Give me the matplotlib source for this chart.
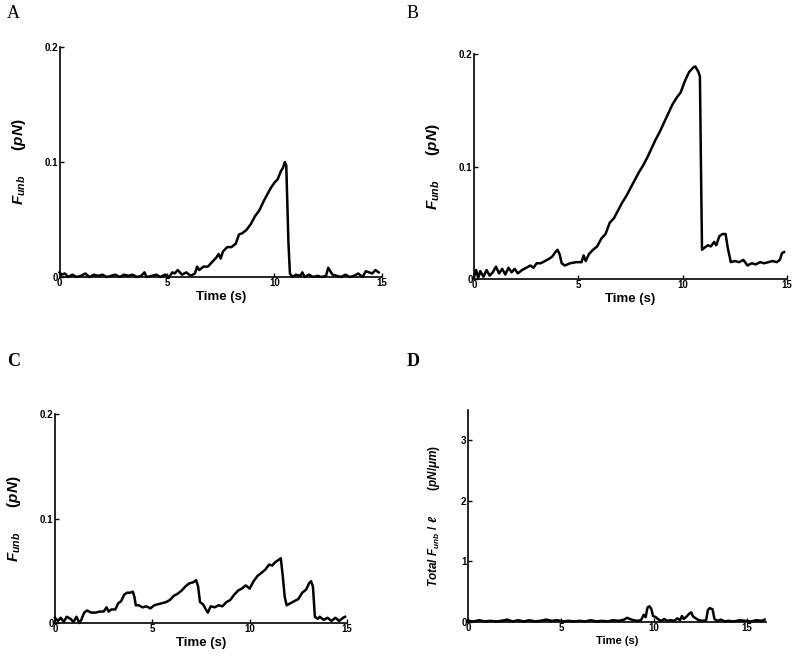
import numpy as np
import matplotlib
matplotlib.use('Agg')
import matplotlib.pyplot as plt

plt.rcParams['font.family'] = ['Liberation Sans', 'DejaVu Sans']
plt.rcParams['mathtext.fontset'] = 'custom'
plt.rcParams['mathtext.it'] = 'Liberation Sans:italic:bold'
plt.rcParams['mathtext.rm'] = 'Liberation Sans:bold'

# panel A - F_unb (pN) vs time (s)
tA = [0.0, 0.1, 0.25, 0.4, 0.6, 0.8, 1.0, 1.2, 1.4, 1.6, 1.8, 2.0, 2.2, 2.4, 2.6, 2.8,
      3.0, 3.2, 3.4, 3.6, 3.8, 3.95, 4.05, 4.3, 4.5, 4.7, 4.9, 5.1, 5.25, 5.35, 5.5, 5.6,
      5.7, 5.9, 6.1, 6.3, 6.4, 6.5, 6.7, 6.9, 7.1, 7.3, 7.4, 7.5, 7.6, 7.8, 8.0, 8.2,
      8.35, 8.5, 8.7, 8.9, 9.1, 9.3, 9.5, 9.7, 9.85, 10.0, 10.15, 10.3, 10.4, 10.48,
      10.55, 10.65, 10.72, 10.85, 11.0, 11.2, 11.3, 11.4, 11.6, 11.8, 12.0, 12.2, 12.4,
      12.5, 12.6, 12.7, 12.9, 13.1, 13.3, 13.5, 13.7, 13.9, 14.1, 14.25, 14.4, 14.55,
      14.7, 14.85]
fA = [0.004, 0.002, 0.003, 0.0, 0.002, 0.0, 0.001, 0.003, 0.0, 0.002, 0.001, 0.002,
      0.0, 0.001, 0.002, 0.0, 0.002, 0.001, 0.002, 0.0, 0.001, 0.004, 0.0, 0.001, 0.002,
      0.0, 0.002, 0.0, 0.004, 0.003, 0.006, 0.004, 0.002, 0.004, 0.001, 0.003, 0.009,
      0.006, 0.009, 0.009, 0.013, 0.017, 0.02, 0.016, 0.022, 0.026, 0.026, 0.029, 0.037,
      0.038, 0.041, 0.046, 0.053, 0.058, 0.066, 0.073, 0.078, 0.082, 0.085, 0.092, 0.095,
      0.1, 0.097, 0.03, 0.003, 0.0, 0.002, 0.001, 0.004, 0.0, 0.002, 0.0, 0.001, 0.0,
      0.001, 0.008, 0.005, 0.002, 0.001, 0.0, 0.002, 0.0, 0.001, 0.003, 0.0, 0.005, 0.004,
      0.003, 0.006, 0.004]

# panel B
tB = [0.0, 0.1, 0.2, 0.3, 0.45, 0.6, 0.75, 0.9, 1.05, 1.2, 1.35, 1.5, 1.65, 1.8, 1.95,
      2.1, 2.3, 2.5, 2.7, 2.85, 3.0, 3.2, 3.4, 3.6, 3.75, 3.9, 4.0, 4.1, 4.2, 4.35, 4.6,
      4.9, 5.15, 5.25, 5.35, 5.5, 5.7, 5.9, 6.1, 6.3, 6.5, 6.7, 6.9, 7.1, 7.3, 7.5, 7.7,
      7.9, 8.1, 8.3, 8.5, 8.7, 8.9, 9.1, 9.3, 9.5, 9.7, 9.9, 10.1, 10.3, 10.5, 10.6,
      10.75, 10.82, 10.87, 10.92, 11.05, 11.2, 11.35, 11.5, 11.6, 11.75, 11.9, 12.05,
      12.15, 12.3, 12.5, 12.7, 12.9, 13.1, 13.3, 13.5, 13.7, 13.9, 14.1, 14.3, 14.5,
      14.65, 14.75, 14.85]
fB = [0.002, 0.008, 0.001, 0.007, 0.002, 0.008, 0.003, 0.006, 0.011, 0.005, 0.009,
      0.004, 0.01, 0.006, 0.009, 0.005, 0.008, 0.01, 0.012, 0.01, 0.014, 0.014, 0.016,
      0.018, 0.02, 0.024, 0.026, 0.022, 0.014, 0.012, 0.014, 0.015, 0.015, 0.021, 0.016,
      0.022, 0.026, 0.029, 0.036, 0.04, 0.05, 0.054, 0.061, 0.068, 0.074, 0.081, 0.088,
      0.095, 0.101, 0.108, 0.116, 0.124, 0.131, 0.139, 0.147, 0.155, 0.161, 0.166, 0.176,
      0.184, 0.188, 0.189, 0.184, 0.18, 0.1, 0.026, 0.028, 0.03, 0.029, 0.033, 0.03, 0.038,
      0.04, 0.04, 0.028, 0.015, 0.016, 0.015, 0.017, 0.012, 0.014, 0.013, 0.015, 0.014,
      0.015, 0.016, 0.015, 0.017, 0.023, 0.024]

# panel C
tC = [0.0, 0.15, 0.3, 0.45, 0.6, 0.8, 0.95, 1.1, 1.25, 1.35, 1.5, 1.65, 1.85, 2.1, 2.3,
      2.5, 2.65, 2.75, 2.9, 3.1, 3.25, 3.4, 3.55, 3.7, 3.85, 4.0, 4.08, 4.15, 4.3, 4.5,
      4.7, 4.9, 5.1, 5.3, 5.5, 5.7, 5.9, 6.1, 6.3, 6.5, 6.7, 6.9, 7.1, 7.25, 7.35, 7.45,
      7.6, 7.75, 7.85, 8.0, 8.2, 8.4, 8.6, 8.8, 9.0, 9.2, 9.4, 9.6, 9.8, 10.0, 10.2, 10.4,
      10.6, 10.8, 11.0, 11.15, 11.3, 11.45, 11.6, 11.7, 11.8, 11.9, 12.1, 12.3, 12.5,
      12.7, 12.9, 13.05, 13.15, 13.25, 13.35, 13.5, 13.6, 13.8, 14.0, 14.2, 14.4, 14.6,
      14.8, 14.9]
fC = [0.005, 0.002, 0.005, 0.001, 0.006, 0.004, 0.001, 0.006, 0.0, 0.003, 0.01, 0.012,
      0.01, 0.01, 0.011, 0.011, 0.015, 0.011, 0.013, 0.013, 0.019, 0.021, 0.027, 0.029,
      0.029, 0.03, 0.025, 0.017, 0.017, 0.015, 0.016, 0.014, 0.017, 0.018, 0.019, 0.02,
      0.022, 0.026, 0.028, 0.031, 0.035, 0.038, 0.039, 0.041, 0.035, 0.02, 0.018, 0.013,
      0.01, 0.016, 0.015, 0.017, 0.016, 0.02, 0.022, 0.027, 0.031, 0.033, 0.036, 0.033,
      0.04, 0.045, 0.048, 0.051, 0.056, 0.055, 0.058, 0.06, 0.062, 0.045, 0.025, 0.017,
      0.019, 0.021, 0.023, 0.029, 0.032, 0.038, 0.04, 0.035, 0.006, 0.004, 0.006, 0.003,
      0.005, 0.002, 0.005, 0.002, 0.005, 0.006]

# panel D - total F_unb per length (pN/um)
tD = [0.0, 0.3, 0.6, 0.9, 1.2, 1.5, 1.8, 2.1, 2.4, 2.7, 3.0, 3.3, 3.6, 3.9, 4.2, 4.5,
      4.8, 5.1, 5.4, 5.7, 6.0, 6.3, 6.6, 6.9, 7.2, 7.5, 7.8, 8.1, 8.4, 8.55, 8.7, 8.9,
      9.1, 9.3, 9.45, 9.55, 9.65, 9.75, 9.85, 9.95, 10.1, 10.25, 10.4, 10.55, 10.7, 10.9,
      11.1, 11.25, 11.4, 11.5, 11.6, 11.75, 11.9, 12.0, 12.1, 12.25, 12.4, 12.6, 12.8,
      12.9, 13.0, 13.15, 13.25, 13.4, 13.6, 13.8, 14.0, 14.3, 14.6, 14.9, 15.2, 15.5,
      15.8, 15.95]
fD = [0.02, 0.01, 0.03, 0.01, 0.02, 0.01, 0.02, 0.04, 0.01, 0.03, 0.01, 0.03, 0.01,
      0.02, 0.04, 0.02, 0.03, 0.01, 0.02, 0.01, 0.02, 0.01, 0.03, 0.01, 0.02, 0.01, 0.03,
      0.02, 0.04, 0.07, 0.05, 0.03, 0.02, 0.03, 0.12, 0.08, 0.24, 0.26, 0.22, 0.1, 0.08,
      0.04, 0.02, 0.05, 0.02, 0.03, 0.02, 0.06, 0.03, 0.1, 0.05, 0.09, 0.14, 0.16, 0.09,
      0.06, 0.03, 0.02, 0.03, 0.2, 0.23, 0.21, 0.05, 0.02, 0.04, 0.01, 0.02, 0.01, 0.03,
      0.02, 0.01, 0.03, 0.02, 0.04]

xticks_abc = [0, 5, 10, 15]
yticks_abc = [0, 0.1, 0.2]
yticklabels_abc = ['0', '0.1', '0.2']
xticks_d = [0, 5, 10, 15]
yticks_d = [0, 1, 2, 3]

fig = plt.figure(figsize=(8, 6.59), dpi=100)


def style(ax, xlab_size=9.5):
    ax.spines['top'].set_visible(False)
    ax.spines['right'].set_visible(False)
    for s in ['left', 'bottom']:
        ax.spines[s].set_linewidth(1.2)
    ax.tick_params(direction='in', length=3, width=1, labelsize=7, pad=1)
    for lab in ax.get_xticklabels() + ax.get_yticklabels():
        lab.set_fontweight('bold')
    ax.set_xlabel('Time (s)', fontsize=xlab_size, fontweight='bold', labelpad=2)


panels = [
    ([0.0744, 0.5797, 0.403, 0.349], tA, fA),
    ([0.5925, 0.5766, 0.3915, 0.3414], tB, fB),
    ([0.06875, 0.0546, 0.365, 0.317], tC, fC),
]
for pos, t, f in panels:
    ax = fig.add_axes(pos)
    ax.plot(t, f, color='black', lw=1.8, clip_on=False)
    ax.set_xlim(0, 15)
    ax.set_ylim(0, 0.2)
    ax.set_xticks(xticks_abc)
    ax.set_yticks(yticks_abc)
    ax.set_yticklabels(yticklabels_abc)
    style(ax)
    ax.set_ylabel(r'$F_{unb}$      $(pN)$', fontsize=11, labelpad=12)

axd = fig.add_axes([0.585, 0.0561, 0.372, 0.3217])
axd.plot(tD, fD, color='black', lw=1.8, clip_on=False)
axd.set_xlim(0, 16)
axd.set_ylim(0, 3.5)
axd.set_xticks(xticks_d)
axd.set_yticks(yticks_d)
style(axd, xlab_size=8)
axd.set_ylabel(r'$Total\ F_{unb}\ /\ \ell$        $(pN/\mu m)$', fontsize=8.5, labelpad=14)

fig.text(0.009, 1 - 14 / 659, 'A', family='Liberation Serif', fontsize=13, va='center')
fig.text(0.508, 1 - 14 / 659, 'B', family='Liberation Serif', fontsize=13, va='center')
fig.text(0.009, 1 - 362 / 659, 'C', family='Liberation Serif', fontsize=13,
         fontweight='bold', va='center')
fig.text(0.508, 1 - 362 / 659, 'D', family='Liberation Serif', fontsize=13,
         fontweight='bold', va='center')

fig.savefig('out.png', dpi=100)
